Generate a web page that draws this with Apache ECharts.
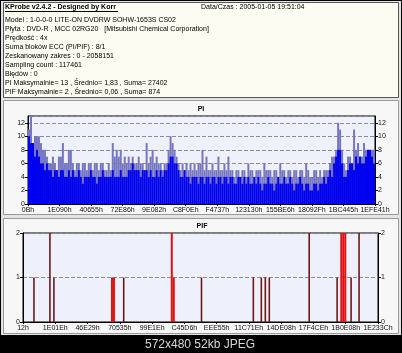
<!DOCTYPE html>
<html>
<head>
<meta charset="utf-8">
<script src="https://cdn.jsdelivr.net/npm/echarts@6/dist/echarts.min.js"></script>
<style>
html,body{margin:0;padding:0;background:#000;}
#main{width:402px;height:353px;}
</style>
</head>
<body>
<div id="main"></div>
<script>
// PI: solid blue level per sample and the taller spikes on top of it
var piBase = [10,9,9,7,8,7,6,6,5,6, 5,5,4,5,5,4,5,5,4,4, 5,4,5,4,4,5,4,3,4,4,
              4,5,4,4,3,4,4,5,4,4, 4,4,5,4,4,4,5,4,4,4, 5,5,6,5,5,5,4,5,5,5,
              4,5,4,4,5,4,5,4,5,5, 6,7,7,6,6,5,4,4,5,4, 4,3,4,4,4,3,4,4,3,4,
              4,3,4,4,3,4,4,3,4,4, 3,4,4,3,3,4,4,3,4,3, 4,3,3,4,3,4,3,2,3,3,
              4,3,3,2,3,4,3,3,4,3, 3,4,3,2,3,3,4,3,2,3, 3,2,2,3,3,2,3,3,4,3,
              4,5,4,6,7,8,8,6,4,4, 5,6,6,5,7,6,7,6,6,7, 8,8,7,6];
var piPeak = [11,13,9,10,10,10,9,8,8,7, 6,6,7,6,5,7,7,9,6,6, 8,8,6,5,6,6,5,6,6,5,
              6,6,5,6,6,5,6,6,5,5, 6,5,9,7,8,7,8,6,7,6, 7,6,7,6,6,7,6,6,5,9,
              6,7,8,6,7,6,6,5,6,6, 8,10,9,8,7,6,5,6,5,6, 5,6,5,6,5,6,6,8,5,7,
              5,5,6,5,5,7,5,5,6,5, 7,5,5,4,5,5,4,5,5,4, 6,5,5,4,5,5,5,4,6,5,
              5,5,4,5,5,4,6,5,5,4, 5,5,4,5,5,4,5,5,4,6, 5,4,4,5,5,4,5,4,5,5,
              5,6,7,7,8,12,11,8,6,5, 7,7,6,11,8,9,7,7,9,8, 8,8,8,8];
var piLabels = ['0Bh','1E090h','40655h','72E86h','9E082h','C8F0Eh','F4737h',
                '123130h','155BE6h','18092Fh','1BC445h','1EFE41h'];

// PIF: sparse samples (bin, value)
var pifBins = 178;
var pifPos = [5,13,15,44,45,50,74,75,89,115,119,121,123,143,157,159,160,161,164,168];
var pifVal = [1,2,1,1,1,1,2,1,1,1,1,1,1,2,1,2,2,2,1,2];
var pifLabels = ['12h','1E01Eh','46E29h','70535h','99E1Eh','C45D6h','EEE55h',
                 '11C71Eh','14DE08h','17F4CEh','1B0E08h','1E233Ch'];

var headerTitle = 'KProbe v2.4.2 - Designed by Korr';
var headerDate = 'Data/Czas : 2005-01-05 19:51:04';
var headerLines = [
    'Model : 1-0-0-0 LITE-ON DVDRW SOHW-1653S CS02',
    'Płyta : DVD-R , MCC 02RG20   [Mitsubishi Chemical Corporation]',
    'Prędkość : 4x',
    'Suma bloków ECC (PI/PIF) : 8/1',
    'Zeskanowany zakres : 0 - 2058151',
    'Sampling count : 117461',
    'Błędów : 0',
    'PI Maksymalnie= 13 , Średnio= 1,83 , Suma= 27402',
    'PIF Maksymalnie= 2 , Średnio= 0,06 , Suma= 874'
];

var FONT = '"Liberation Sans", Arial, sans-serif';

var piIdx = [];
for (var i = 0; i < piBase.length; i++) piIdx.push(i);
var pifIdx = [], pifData = [];
for (var i = 0; i < pifBins; i++) { pifIdx.push(i); pifData.push(0); }
for (var i = 0; i < pifPos.length; i++) pifData[pifPos[i]] = pifVal[i];
// lone samples are drawn thin, runs of samples wide
var pifThin = [], pifWide = [];
for (var i = 0; i < pifBins; i++) {
    var run = (pifData[i-1] > 0 || pifData[i+1] > 0);
    pifThin.push(run ? 0 : pifData[i]);
    pifWide.push(run ? pifData[i] : 0);
}

var chart = echarts.init(document.getElementById('main'));

var graphics = [
    {type:'rect', z:-20, shape:{x:1,y:1,width:400,height:334}, style:{fill:'#e4e4e4'}},
    {type:'rect', z:-15, shape:{x:3.5,y:2.5,width:395,height:95}, style:{fill:'#fcfcf2', stroke:'#555', lineWidth:1}},
    {type:'rect', z:-15, shape:{x:3.5,y:100.5,width:395,height:114}, style:{fill:'#f7f7f7', stroke:'#9a9a9a', lineWidth:1}},
    {type:'rect', z:-15, shape:{x:3.5,y:218.5,width:395,height:115}, style:{fill:'#f7f7f7', stroke:'#9a9a9a', lineWidth:1}},
    {type:'text', style:{text:headerTitle, x:5, y:7, verticalAlign:'middle', fontSize:7, fontWeight:'bold', fontFamily:FONT, fill:'#000'}},
    {type:'line', shape:{x1:5, y1:11.5, x2:118, y2:11.5}, style:{stroke:'#000', lineWidth:1}},
    {type:'text', style:{text:headerDate, x:201, y:7, verticalAlign:'middle', fontSize:7, fontFamily:FONT, fill:'#000'}},
    {type:'text', style:{text:'PI', x:201, y:109, align:'center', verticalAlign:'middle', fontSize:7, fontWeight:'bold', fontFamily:FONT, fill:'#000'}},
    {type:'text', style:{text:'PIF', x:202, y:226, align:'center', verticalAlign:'middle', fontSize:7, fontWeight:'bold', fontFamily:FONT, fill:'#000'}},
    {type:'text', style:{text:'572x480 52kb JPEG', x:200, y:345, align:'center', verticalAlign:'middle', fontSize:12, fontFamily:FONT, fill:'#d8d8d8'}}
];
for (var i = 0; i < headerLines.length; i++) {
    graphics.push({type:'text', style:{text:headerLines[i], x:5, y:20 + i * 9, verticalAlign:'middle',
        fontSize:7, fontFamily:FONT, fill:'#000'}});
}

function yAx(grid, max, step, pos, split) {
    return {
        gridIndex:grid, type:'value', min:0, max:max, interval:step, position:pos,
        axisLine:{show:true, lineStyle:{color:'#000'}},
        axisTick:{show:true, length:3, lineStyle:{color:'#000'}},
        axisLabel:{fontSize:7, margin:3, color:'#111', fontFamily:FONT, showMaxLabel: max % step === 0},
        splitLine:{show:split, lineStyle:{type:'dashed', color:'#8c8c8c'}}
    };
}
function xBars(grid, data) {
    return {gridIndex:grid, type:'category', data:data, position:'bottom',
        axisLine:{lineStyle:{color:'#000'}}, axisTick:{show:false}, axisLabel:{show:false}};
}
function xLabels(grid, labels) {
    return {gridIndex:grid, type:'category', data:labels, boundaryGap:false, position:'bottom',
        axisLine:{show:false}, axisTick:{show:true, length:2, lineStyle:{color:'#000'}},
        axisLabel:{interval:0, fontSize:7, margin:3, color:'#111', fontFamily:FONT}};
}

var option = {
    animation:false,
    backgroundColor:'#000',
    graphic:graphics,
    grid:[
        {left:28, right:27, top:116, bottom:149, show:true, backgroundColor:'#eef0fb', borderColor:'#000', borderWidth:1},
        {left:23, right:24, top:233, bottom:31, show:true, backgroundColor:'#eef0fb', borderColor:'#000', borderWidth:1}
    ],
    xAxis:[xBars(0, piIdx), xLabels(0, piLabels), xBars(1, pifIdx), xLabels(1, pifLabels)],
    yAxis:[yAx(0, 13, 2, 'left', true), yAx(0, 13, 2, 'right', false),
           yAx(1, 2, 1, 'left', true), yAx(1, 2, 1, 'right', false)],
    series:[
        {name:'PI max', type:'bar', xAxisIndex:0, yAxisIndex:0, data:piPeak,
         barWidth:'100%', barGap:'-100%', itemStyle:{color:'#7676c2'}},
        {name:'PI', type:'bar', xAxisIndex:0, yAxisIndex:0, data:piBase,
         barWidth:'100%', barGap:'-100%', itemStyle:{color:'#0000f0'}},
        {name:'PIF', type:'bar', xAxisIndex:2, yAxisIndex:2, data:pifWide,
         barWidth:'100%', barGap:'-100%', itemStyle:{color:'#e01010'}},
        {name:'PIF single', type:'bar', xAxisIndex:2, yAxisIndex:2, data:pifThin,
         barWidth:1.6, barGap:'-100%', itemStyle:{color:'#6e1818'}}
    ]
};
chart.setOption(option);
</script>
</body>
</html>
